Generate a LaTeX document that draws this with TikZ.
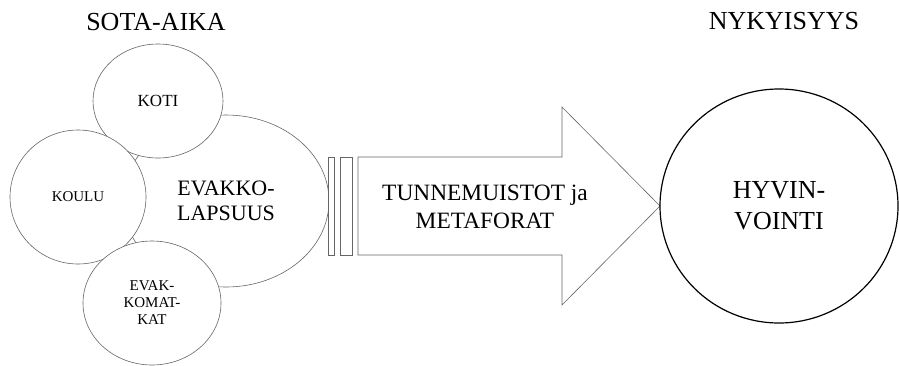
\documentclass[tikz,border=0pt]{standalone}
\usepackage{fontspec}
\setmainfont{Liberation Serif}
\usetikzlibrary{shapes.geometric}
\tikzset{
  blob/.style={ellipse,draw=black!60,line width=0.6pt,fill=white,inner sep=0pt,align=center},
  stripe/.style={draw=black!60,line width=0.6pt,fill=white},
  heading/.style={font=\fontsize{26}{30}\selectfont}
}
\newcommand{\fsz}[2]{\fontsize{#1}{#2}\selectfont}

\begin{document}
\begin{tikzpicture}[x=1pt,y=-1pt]
  \useasboundingbox (0,0) rectangle (899,365);
  % --- headings ---
  \node[heading] (sota) at (156,22) {SOTA-AIKA};
  \node[heading] (nyky) at (784,21) {NYKYISYYS};
  % --- childhood cluster (big ellipse first, small circles on top) ---
  \node[blob,minimum width=206pt,minimum height=172pt,font=\fsz{22}{25}] (evakko) at (226,201) {EVAKKO-\\LAPSUUS};
  \node[blob,minimum width=130pt,minimum height=114pt,font=\fsz{17}{20}] (koti) at (158,101) {KOTI};
  \node[blob,minimum width=136pt,minimum height=134pt,font=\fsz{15}{17}] (koulu) at (78,197) {KOULU};
  \node[blob,minimum width=138pt,minimum height=124pt,font=\fsz{15}{17}] (evakomat) at (152,303) {EVAK-\\KOMAT-\\KAT};
  % --- striped arrow ---
  \draw[stripe] (328,157) rectangle (334,255);
  \draw[stripe] (340,157) rectangle (352,255);
  \draw[stripe] (358,157) -- (562,157) -- (562,107) -- (660,206) -- (562,305)
    -- (562,255) -- (358,255) -- cycle;
  \node[font=\fsz{23.4}{28},align=center] (tunne) at (485,207) {TUNNEMUISTOT ja\\METAFORAT};
  % --- present ---
  \node[ellipse,draw,line width=1.2pt,inner sep=0pt,align=center,
        minimum width=238pt,minimum height=234pt,font=\fsz{26}{31}] (hyvin) at (779,206) {HYVIN-\\VOINTI};
\end{tikzpicture}
\end{document}
